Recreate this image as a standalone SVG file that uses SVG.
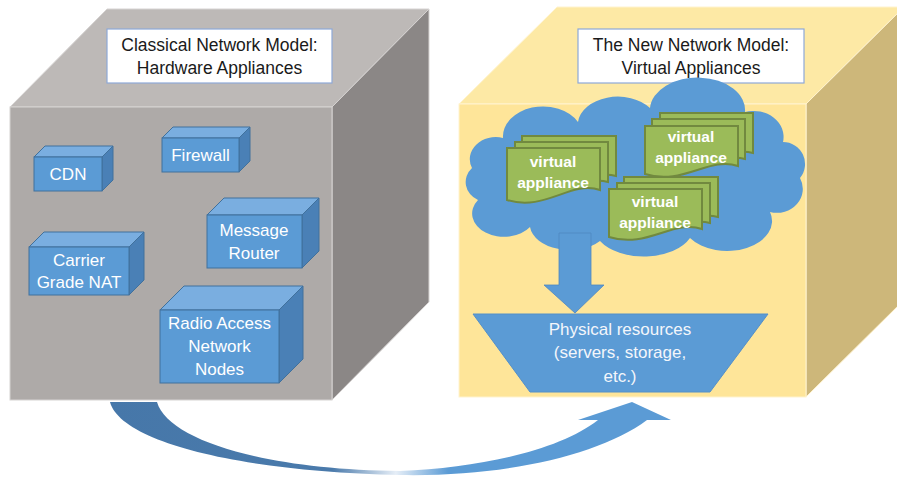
<svg xmlns="http://www.w3.org/2000/svg" width="897" height="478" viewBox="0 0 897 478">
<defs>
<style>
.t{font-family:"Liberation Sans",Arial,sans-serif;text-anchor:middle}
.title{font-size:17.5px;fill:#1a1a1a}
.bx{font-size:17px;fill:#ffffff}
.va{font-size:15.5px;font-weight:bold;fill:#ffffff}
.ph{font-size:17px;fill:#f3f6fb}
.front{fill:#5b9bd5;stroke:#41719c;stroke-width:1}
.top{fill:#7aaee0;stroke:#41719c;stroke-width:1}
.side{fill:#4a80b6;stroke:#41719c;stroke-width:1}
.doc{fill:#9bbb59;stroke:#71893f;stroke-width:2}
.tbox{fill:#ffffff;stroke:#8ea9d8;stroke-width:1.2}
</style>
<linearGradient id="curveGrad" gradientUnits="userSpaceOnUse" x1="100" y1="0" x2="680" y2="0">
<stop offset="0" stop-color="#4677a9"/>
<stop offset="0.40" stop-color="#4a7aab"/>
<stop offset="0.51" stop-color="#e6eef7"/>
<stop offset="0.60" stop-color="#5b9bd5"/>
<stop offset="1" stop-color="#5b9bd5"/>
</linearGradient>
</defs>
<rect width="897" height="478" fill="#ffffff"/>

<g id="classical-cube">
<polygon points="10,107 107,9 429,9 332,107" fill="#bdb9b7" stroke="#d6d3d2" stroke-width="1"/>
<polygon points="332,107 429,9 429,302 332,400" fill="#8b8786" stroke="#d6d3d2" stroke-width="1"/>
<rect x="10" y="107" width="322" height="293" fill="#aeaaa8" stroke="#d6d3d2" stroke-width="1"/>
</g>
<g id="classical-title">
<rect class="tbox" x="107" y="29" width="225" height="54"/>
<text class="t title" x="219.5" y="51">Classical Network Model:</text>
<text class="t title" x="219.5" y="74">Hardware Appliances</text>
</g>

<g id="cdn">
<polygon class="top" points="34,157 45,146 113,146 102,157"/>
<polygon class="side" points="102,157 113,146 113,180 102,191"/>
<rect class="front" x="34" y="157" width="68" height="34"/>
<text class="t bx" x="68" y="180">CDN</text>
</g>
<g id="firewall">
<polygon class="top" points="162,138 173,127 250,127 239,138"/>
<polygon class="side" points="239,138 250,127 250,161 239,172"/>
<rect class="front" x="162" y="138" width="77" height="34"/>
<text class="t bx" x="200.5" y="161">Firewall</text>
</g>
<g id="message-router">
<polygon class="top" points="207,215 224,198 319,198 302,215"/>
<polygon class="side" points="302,215 319,198 319,251 302,268"/>
<rect class="front" x="207" y="215" width="95" height="53"/>
<text class="t bx" x="254" y="236">Message</text>
<text class="t bx" x="254" y="259">Router</text>
</g>
<g id="carrier-grade-nat">
<polygon class="top" points="29,247 44,232 144,232 129,247"/>
<polygon class="side" points="129,247 144,232 144,280 129,295"/>
<rect class="front" x="29" y="247" width="100" height="48"/>
<text class="t bx" x="79" y="266">Carrier</text>
<text class="t bx" x="79" y="288">Grade NAT</text>
</g>
<g id="radio-access">
<polygon class="top" points="160,310 184,286 303,286 279,310"/>
<polygon class="side" points="279,310 303,286 303,359 279,383"/>
<rect class="front" x="160" y="310" width="119" height="73"/>
<text class="t bx" x="219.5" y="329">Radio Access</text>
<text class="t bx" x="219.5" y="352">Network</text>
<text class="t bx" x="219.5" y="375">Nodes</text>
</g>

<g id="virtual-cube">
<polygon points="459,104 557,7 904,7 806,104" fill="#fde9a5" stroke="#fff3cf" stroke-width="1"/>
<polygon points="806,104 904,7 904,300 806,397" fill="#cdb77a" stroke="#fff3cf" stroke-width="1"/>
<rect x="459" y="104" width="347" height="293" fill="#fee599" stroke="#fff3cf" stroke-width="1"/>
</g>
<g id="virtual-title">
<rect class="tbox" x="578" y="29" width="226" height="54"/>
<text class="t title" x="691" y="51">The New Network Model:</text>
<text class="t title" x="691" y="74">Virtual Appliances</text>
</g>

<g id="cloud">
<path d="M 478,200 A 22 20 0 0 1 472,168 A 26 22 0 0 1 503,138 A 40 30 0 0 1 578,122 A 40 28 0 0 1 650,108 A 44 30 0 0 1 745,112 A 30 26 0 0 1 783,142 A 22 22 0 0 1 800,178 A 26 24 0 0 1 770,212 A 45 30 0 0 1 690,238 A 50 30 0 0 1 600,241 A 40 26 0 0 1 530,227 A 30 22 0 0 1 478,200 Z" fill="#5b9bd5"/>
</g>

<g id="va-1">
<path class="doc" d="M522,136 h94 v40 C 587,168 562,200 522,182 Z"/>
<path class="doc" d="M515,142 h93 v40 C 580,174 555,206 515,188 Z"/>
<path class="doc" d="M507,148 h93 v42 C 571,180 545,212 507,200 Z"/>
<text class="t va" x="553" y="167">virtual</text>
<text class="t va" x="553" y="188">appliance</text>
</g>
<g id="va-2">
<path class="doc" d="M660,113 h93 v40 C 724,145 699,177 660,159 Z"/>
<path class="doc" d="M652,119 h93 v40 C 716,151 691,183 652,165 Z"/>
<path class="doc" d="M645,126 h93 v40 C 709,156 683,186 645,174 Z"/>
<text class="t va" x="691" y="142">virtual</text>
<text class="t va" x="691" y="163">appliance</text>
</g>
<g id="va-3">
<path class="doc" d="M624,177 h94 v40 C 689,209 664,241 624,223 Z"/>
<path class="doc" d="M617,183 h93 v40 C 681,215 656,247 617,229 Z"/>
<path class="doc" d="M609,189 h93 v40 C 673,219 647,249 609,237 Z"/>
<text class="t va" x="655" y="207">virtual</text>
<text class="t va" x="655" y="228">appliance</text>
</g>

<g id="physical-resources">
<polygon points="473,314 768,314 710,392 530,392" fill="#5b9bd5" stroke="#5590c8" stroke-width="1"/>
<text class="t ph" x="620" y="335">Physical resources</text>
<text class="t ph" x="620" y="358">(servers, storage,</text>
<text class="t ph" x="620" y="382">etc.)</text>
</g>

<g id="connectors">
<polygon points="559,233 591,233 591,285 604,285 575,313 544,285 559,285" fill="#5b9bd5" stroke="#4f88c0" stroke-width="0.8"/>
<path d="M 110,402 C 120,440 230,471 400,475 C 505,477 600,455 647,420 L 671,420 L 632,402 L 578,420 L 598,420 C 560,450 480,468 400,471 C 265,470 168,440 157,402 Z" fill="url(#curveGrad)"/>
</g>
</svg>
